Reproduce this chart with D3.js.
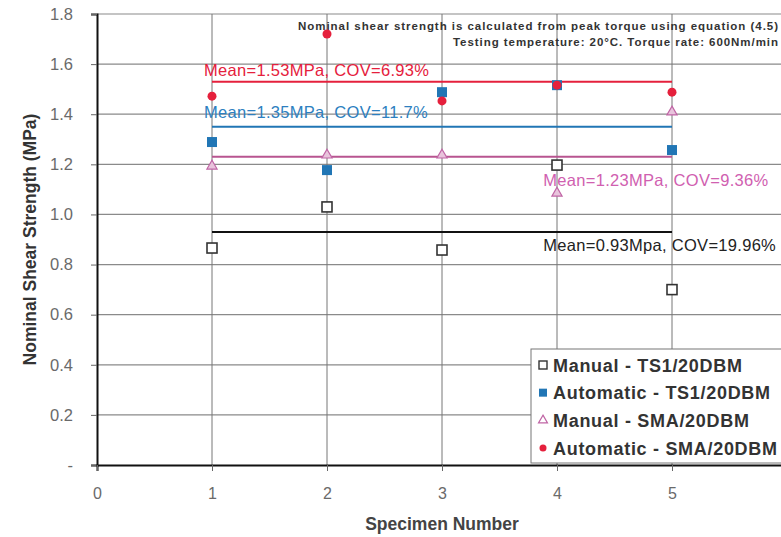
<!DOCTYPE html>
<html>
<head>
<meta charset="utf-8">
<script src="https://cdn.jsdelivr.net/npm/d3@7"></script>
<style>
  body { margin: 0; background: #fff; }
  svg text { font-family: Arial, "Liberation Sans", sans-serif; }
</style>
</head>
<body>
<div class="chart"></div>
<script>
var width = 781
var height = 537

// data
var specimens = [1, 2, 3, 4, 5]
var manualTS1 = [0.866, 1.03, 0.858, 1.197, 0.70]
var autoTS1 = [1.289, 1.177, 1.488, 1.516, 1.257]
var manualSMA = [1.193, 1.237, 1.237, 1.085, 1.409]
var autoSMA = [1.472, 1.72, 1.453, 1.516, 1.488]
var means = [1.53, 1.35, 1.23, 0.93]
var meanLabels = ['Mean=1.53MPa, COV=6.93%', 'Mean=1.35MPa, COV=11.7%', 'Mean=1.23MPa, COV=9.36%', 'Mean=0.93Mpa, COV=19.96%']
var yTicks = [0, 0.2, 0.4, 0.6, 0.8, 1.0, 1.2, 1.4, 1.6, 1.8]
var xTicks = [0, 1, 2, 3, 4, 5]
var legendNames = ['Manual - TS1/20DBM', 'Automatic - TS1/20DBM', 'Manual - SMA/20DBM', 'Automatic - SMA/20DBM']

var blue = '#2176b5'
var red = '#e5203c'
var pink = '#c065a5'
var pinkLine = '#b85590'

var svg = d3.select('.chart').append('svg')
    .attr('width', width)
    .attr('height', height)

var x = d3.scaleLinear().domain([0, 6]).range([97, 787])
var y = d3.scaleLinear().domain([0, 1.8]).range([465, 14])

// grid
svg.selectAll('.hgrid')
    .data(yTicks.slice(1))
    .enter().append('line')
    .attr('x1', x(0)).attr('x2', width)
    .attr('y1', function (d) { return y(d) }).attr('y2', function (d) { return y(d) })
    .attr('stroke', '#8a8a8a').attr('stroke-width', 1.2)

svg.selectAll('.vgrid')
    .data(xTicks.slice(1))
    .enter().append('line')
    .attr('x1', function (d) { return x(d) }).attr('x2', function (d) { return x(d) })
    .attr('y1', y(1.8)).attr('y2', y(0))
    .attr('stroke', '#777').attr('stroke-width', 1)

// axes
var yAxis = svg.append('g')
    .attr('transform', 'translate(' + x(0) + ',0)')
    .call(d3.axisLeft(y).tickValues(yTicks).tickSize(6).tickPadding(18)
        .tickFormat(function (d) { return d === 0 ? '-' : d3.format('.1f')(d) }))
yAxis.select('.domain').attr('stroke', '#111').attr('stroke-width', 2)
yAxis.selectAll('.tick line').attr('stroke', '#666')
yAxis.selectAll('text').attr('fill', '#6a6a6a').attr('font-size', 16.5)

var xAxis = svg.append('g')
    .attr('transform', 'translate(0,' + y(0) + ')')
    .call(d3.axisBottom(x).tickValues(xTicks).tickSize(6).tickPadding(17).tickFormat(d3.format('d')))
xAxis.select('.domain').attr('stroke', '#111').attr('stroke-width', 2)
xAxis.selectAll('.tick line').attr('stroke', '#666')
xAxis.selectAll('text').attr('fill', '#6a6a6a').attr('font-size', 16)

// axis titles
svg.append('text')
    .attr('transform', 'translate(30,' + y(0.9) + ') rotate(-90)')
    .attr('text-anchor', 'middle').attr('dy', '0.35em')
    .attr('font-size', 17.5).attr('font-weight', 'bold').attr('fill', '#333')
    .text('Nominal Shear Strength (MPa)')

svg.append('text')
    .attr('x', 442).attr('y', 530)
    .attr('text-anchor', 'middle')
    .attr('font-size', 17.5).attr('font-weight', 'bold').attr('fill', '#444')
    .text('Specimen Number')

// mean lines
var meanColors = [red, blue, pinkLine, '#111']
svg.selectAll('.mean')
    .data(means)
    .enter().append('line')
    .attr('x1', x(1)).attr('x2', x(5))
    .attr('y1', function (d) { return y(d) }).attr('y2', function (d) { return y(d) })
    .attr('stroke', function (d, i) { return meanColors[i] })
    .attr('stroke-width', 2)

var labelPos = [[1, 1.553], [1, 1.385], [3.95, 1.115], [3.95, 0.855]]
var labelColors = [red, '#2d7fc0', '#d060b0', '#222']
svg.selectAll('.meanlab')
    .data(meanLabels)
    .enter().append('text')
    .attr('x', function (d, i) { return x(labelPos[i][0]) - 8 })
    .attr('y', function (d, i) { return y(labelPos[i][1]) })
    .attr('font-size', 16.5).attr('letter-spacing', 0.3)
    .attr('fill', function (d, i) { return labelColors[i] })
    .text(function (d) { return d })

// note at top right
var note = svg.append('text')
    .attr('text-anchor', 'end')
    .attr('font-size', 11.5).attr('font-weight', 'bold').attr('fill', '#333')
note.append('tspan').attr('x', 778).attr('y', 30)
    .attr('textLength', 480).attr('lengthAdjust', 'spacing')
    .text('Nominal shear strength is calculated from peak torque using  equation (4.5)')
note.append('tspan').attr('x', 778).attr('y', 46)
    .attr('textLength', 325).attr('lengthAdjust', 'spacing')
    .text('Testing temperature: 20°C. Torque rate: 600Nm/min')

// points
function pts(values) {
    return values.map(function (v, i) { return [specimens[i], v] })
}

svg.selectAll('.m1')
    .data(pts(manualTS1))
    .enter().append('rect')
    .attr('x', function (d) { return x(d[0]) - 5 }).attr('y', function (d) { return y(d[1]) - 5 })
    .attr('width', 10).attr('height', 10)
    .attr('fill', 'white').attr('stroke', '#333').attr('stroke-width', 1.6)

var tri = d3.symbol().type(d3.symbolTriangle).size(45)
svg.selectAll('.m2')
    .data(pts(manualSMA))
    .enter().append('path')
    .attr('d', tri)
    .attr('transform', function (d) { return 'translate(' + x(d[0]) + ',' + y(d[1]) + ')' })
    .attr('fill', '#e8c4dc').attr('stroke', pink).attr('stroke-width', 1.2)

svg.selectAll('.a1')
    .data(pts(autoTS1))
    .enter().append('rect')
    .attr('x', function (d) { return x(d[0]) - 5 }).attr('y', function (d) { return y(d[1]) - 5 })
    .attr('width', 10).attr('height', 10)
    .attr('fill', blue)

svg.selectAll('.a2')
    .data(pts(autoSMA))
    .enter().append('circle')
    .attr('cx', function (d) { return x(d[0]) }).attr('cy', function (d) { return y(d[1]) })
    .attr('r', 4.5)
    .attr('fill', red)

// legend
var lg = svg.append('g').attr('transform', 'translate(531,349)')
lg.append('rect')
    .attr('width', 260).attr('height', 114)
    .attr('fill', 'white').attr('stroke', '#777').attr('stroke-width', 1)

var legendY = d3.scalePoint().domain(legendNames).range([16, 99])
var items = lg.selectAll('.item')
    .data(legendNames)
    .enter().append('g')
    .attr('transform', function (d) { return 'translate(0,' + legendY(d) + ')' })

items.append('text')
    .attr('x', 22).attr('y', 6.5)
    .attr('font-size', 18).attr('font-weight', 'bold').attr('fill', '#333')
    .attr('letter-spacing', 0.7)
    .text(function (d) { return d })

items.each(function (d, i) {
    var g = d3.select(this)
    if (i === 0) {
        g.append('rect').attr('x', 8).attr('y', -4).attr('width', 8).attr('height', 8)
            .attr('fill', 'white').attr('stroke', '#333').attr('stroke-width', 1.4)
    } else if (i === 1) {
        g.append('rect').attr('x', 8).attr('y', -4).attr('width', 8).attr('height', 8).attr('fill', blue)
    } else if (i === 2) {
        g.append('path').attr('d', d3.symbol().type(d3.symbolTriangle).size(35))
            .attr('transform', 'translate(12,0)')
            .attr('fill', 'white').attr('stroke', pink).attr('stroke-width', 1.2)
    } else {
        g.append('circle').attr('cx', 12).attr('cy', 0).attr('r', 3.5).attr('fill', red)
    }
})
</script>
</body>
</html>
